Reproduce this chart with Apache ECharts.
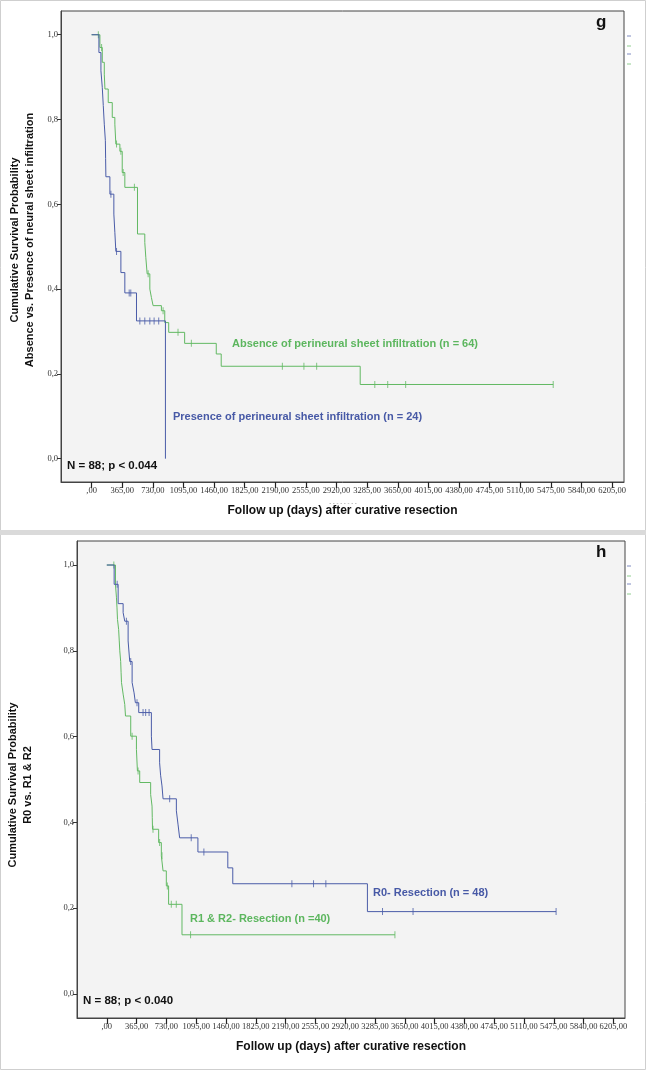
<!DOCTYPE html>
<html><head><meta charset="utf-8">
<script src="https://cdn.jsdelivr.net/npm/echarts@6/dist/echarts.min.js"></script>
<style>html,body{margin:0;padding:0;background:#fff}#c{width:646px;height:1070px}</style>
</head><body><div id="c"></div>
<script>
// ---------- axis ticks ----------
const xTicks = [0,365,730,1095,1460,1825,2190,2555,2920,3285,3650,4015,4380,4745,5110,5475,5840,6205];
const yTicks = [0,0.2,0.4,0.6,0.8,1.0];

// ---------- panel g : perineural sheet infiltration ----------
const gAbsTime = [0,99,127,151,159,198,246,277,289,337,365,396,547,634,646,662,694,713,733,832,872,919,1109,1486,1545,3202];
const gAbsSurv = [1.0,0.970,0.935,0.907,0.872,0.840,0.805,0.789,0.742,0.725,0.675,0.640,0.530,0.510,0.475,0.436,0.400,0.380,0.361,0.349,0.321,0.298,0.272,0.247,0.218,0.175];
const gAbsCens = [80,119,297,349,376,510,674,852,1030,1189,2274,2531,2683,3376,3530,3744,5503];

const gPreTime = [0,87,111,127,139,151,164,167,170,218,265,277,289,349,396,535,880];
const gPreSurv = [1.0,0.958,0.915,0.876,0.833,0.789,0.750,0.708,0.665,0.624,0.577,0.534,0.489,0.439,0.391,0.325,0.0];
const gPreCens = [230,297,448,467,575,634,694,745,800];

// ---------- panel h : resection margin ----------
const hR0Time = [0,90,139,200,220,261,281,310,334,350,391,546,554,647,659,676,689,852,872,892,1116,1482,1543,3192];
const hR0Surv = [1.0,0.955,0.910,0.889,0.869,0.823,0.775,0.726,0.702,0.679,0.656,0.601,0.570,0.539,0.510,0.485,0.455,0.427,0.396,0.364,0.331,0.294,0.257,0.192];
const hR0Cens = [127,240,293,370,444,476,518,770,1034,1189,2267,2532,2683,3377,3751,5503];

const hR12Time = [0,106,118,125,131,145,152,159,170,175,180,200,220,229,293,363,375,403,537,554,557,560,635,668,689,729,757,921];
const hR12Surv = [1.0,0.955,0.925,0.900,0.873,0.850,0.825,0.800,0.775,0.750,0.726,0.699,0.675,0.648,0.601,0.570,0.520,0.493,0.465,0.438,0.411,0.384,0.353,0.322,0.287,0.252,0.209,0.138];
const hR12Cens = [86,310,383,566,647,676,741,790,851,1026,3529];

const BLUE = '#4a5ca8', GREEN = '#62b963', TBLUE = '#4759a6', TGREEN = '#5cb65e';
const X_STEP = xTicks[1] - xTicks[0];

function survAt(times, surv, t){ let s = surv[0]; for (let i=0;i<times.length;i++){ if (times[i] <= t) s = surv[i]; } return s; }
function lineData(times, surv, cens){
  const d = times.map((t,i)=>[t, surv[i]]);
  const last = Math.max.apply(null, cens);
  if (last > times[times.length-1]) d.push([last, surv[surv.length-1]]);
  return d;
}
function censData(times, surv, cens){ return cens.map(t => [t, survAt(times, surv, t)]); }

function xAxisCfg(gi){
  return {
    type:'value', gridIndex:gi, min:-X_STEP, max:6347, interval:X_STEP,
    name:'Follow up (days) after curative resection', nameLocation:'middle', nameGap:23,
    nameTextStyle:{fontFamily:'Liberation Sans, Arial, sans-serif', fontWeight:'bold', fontSize:12, color:'#111'},
    axisLine:{show:true, onZero:false, lineStyle:{color:'#444', width:1}},
    axisTick:{show:true, length:6, inside:false, lineStyle:{color:'#222', width:1.2}},
    axisLabel:{margin:4, fontFamily:'Liberation Serif, serif', fontSize:8.5, color:'#333', hideOverlap:false,
      showMinLabel:false, showMaxLabel:false,
      formatter: v => (v < 0 || v > xTicks[xTicks.length-1]) ? '' : (v===0 ? ',00' : v + ',00')},
    splitLine:{show:false}
  };
}
function yAxisCfg(gi, min, max){
  return {
    type:'value', gridIndex:gi, min:min, max:max,
    axisLine:{show:true, onZero:false, lineStyle:{color:'#444', width:1}},
    axisTick:{show:true, length:4, customValues:yTicks, lineStyle:{color:'#333', width:1}},
    axisLabel:{customValues:yTicks, margin:3, fontFamily:'Liberation Serif, serif', fontSize:8.5, color:'#333',
      formatter: v => v.toFixed(1).replace('.', ',')},
    splitLine:{show:false}
  };
}
function stepSeries(name, xi, data, color){
  return {name, type:'line', xAxisIndex:xi, yAxisIndex:xi, step:'end', data, symbol:'none',
    lineStyle:{color, width:1}, animation:false, silent:true};
}
function censSeries(name, xi, data, color){
  return {name, type:'scatter', xAxisIndex:xi, yAxisIndex:xi, data, symbol:'rect', symbolSize:[1,7],
    itemStyle:{color}, animation:false, silent:true};
}
function txt(x, y, text, color, size, extra){
  return Object.assign({type:'text', x, y, silent:true,
    style:{text, fill:color, fontFamily:'Liberation Sans, Arial, sans-serif', fontWeight:'bold', fontSize:size, align:'left', verticalAlign:'middle'}}, extra||{});
}
function vtxt(x, y, text){
  return {type:'text', x, y, rotation:Math.PI/2, silent:true,
    style:{text, fill:'#111', fontFamily:'Liberation Sans, Arial, sans-serif', fontWeight:'bold', fontSize:11, align:'center', verticalAlign:'middle'}};
}
function stub(x, y, color){
  return {type:'line', silent:true, shape:{x1:x, y1:y, x2:x+4, y2:y}, style:{stroke:color, lineWidth:1, opacity:0.7}};
}

const chart = echarts.init(document.getElementById('c'), null, {renderer:'canvas'});
chart.setOption({
  backgroundColor:'#ffffff',
  animation:false,
  grid:[
    {left:61, right:22, top:11, height:471, show:true, backgroundColor:'#f3f3f3', borderColor:'#444', borderWidth:1},
    {left:77, right:21, top:541, height:477, show:true, backgroundColor:'#f3f3f3', borderColor:'#444', borderWidth:1}
  ],
  xAxis:[xAxisCfg(0), xAxisCfg(1)],
  yAxis:[yAxisCfg(0,-0.055,1.056), yAxisCfg(1,-0.056,1.056)],
  series:[
    stepSeries('Absence', 0, lineData(gAbsTime,gAbsSurv,gAbsCens), GREEN),
    stepSeries('Presence', 0, lineData(gPreTime,gPreSurv,gPreCens), BLUE),
    censSeries('Absence censored', 0, censData(gAbsTime,gAbsSurv,gAbsCens), GREEN),
    censSeries('Presence censored', 0, censData(gPreTime,gPreSurv,gPreCens), BLUE),
    stepSeries('R1 & R2', 1, lineData(hR12Time,hR12Surv,hR12Cens), GREEN),
    stepSeries('R0', 1, lineData(hR0Time,hR0Surv,hR0Cens), BLUE),
    censSeries('R1 & R2 censored', 1, censData(hR12Time,hR12Surv,hR12Cens), GREEN),
    censSeries('R0 censored', 1, censData(hR0Time,hR0Surv,hR0Cens), BLUE)
  ],
  graphic:[
    {type:'rect', silent:true, shape:{x:0.5, y:0.5, width:645, height:1069}, style:{fill:null, stroke:'#cfcfcf', lineWidth:1}},
    {type:'rect', silent:true, shape:{x:0, y:530, width:646, height:5}, style:{fill:'#dadada'}},
    vtxt(15, 240, 'Cumulative Survival Probability'),
    vtxt(30, 240, 'Absence vs. Presence of neural sheet infiltration'),
    vtxt(13, 785, 'Cumulative Survival Probability'),
    vtxt(28, 785, 'R0 vs. R1 & R2'),
    txt(232, 344, 'Absence of perineural sheet infiltration (n = 64)', TGREEN, 11),
    txt(173, 417, 'Presence of perineural sheet infiltration (n = 24)', TBLUE, 11),
    txt(67, 466, 'N = 88; p < 0.044', '#111', 11.5),
    txt(373, 893, 'R0- Resection (n = 48)', TBLUE, 11),
    txt(190, 919, 'R1 & R2- Resection (n =40)', TGREEN, 11),
    txt(83, 1001, 'N = 88; p < 0.040', '#111', 11.5),
    txt(596, 22, 'g', '#111', 17),
    txt(596, 552, 'h', '#111', 17),
    {type:'text', x:343, y:503, silent:true, style:{text:'- - - - - - - -', fill:'#888', fontSize:6, align:'center', verticalAlign:'middle'}},
    stub(627, 36, BLUE), stub(627, 46, GREEN), stub(627, 54, BLUE), stub(627, 64, GREEN),
    stub(627, 566, BLUE), stub(627, 576, GREEN), stub(627, 584, BLUE), stub(627, 594, GREEN)
  ]
});
</script>
</body></html>
